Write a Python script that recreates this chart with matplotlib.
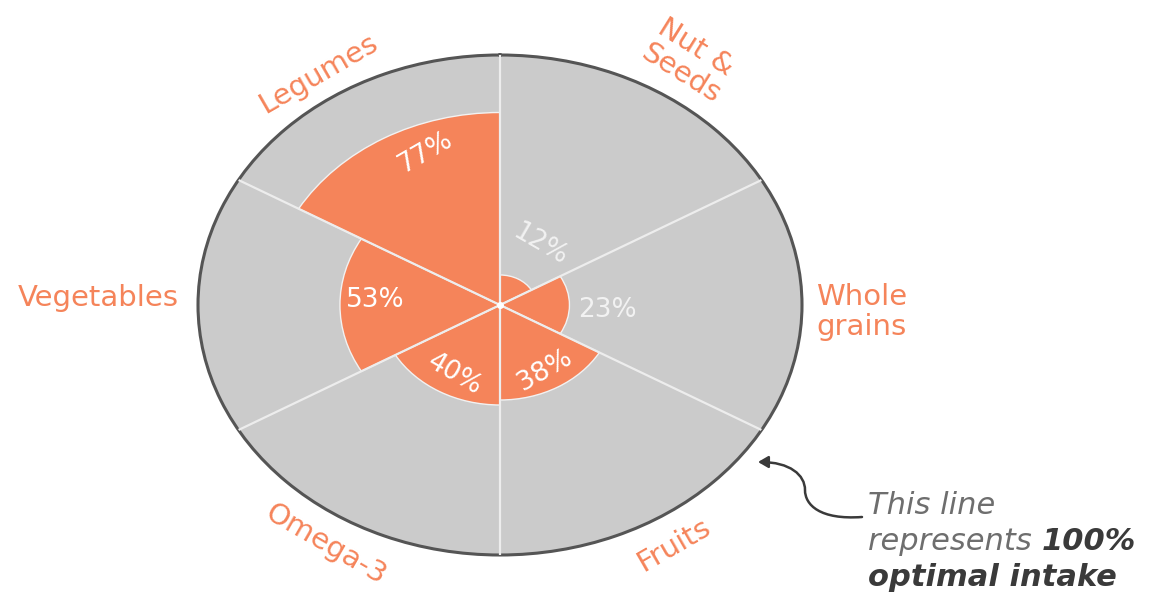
import numpy as np
import matplotlib
matplotlib.use("Agg")
import matplotlib.pyplot as plt
from matplotlib.patches import FancyArrowPatch
from matplotlib.path import Path

categories = ["Nut &\nSeeds", "Whole\ngrains", "Fruits", "Omega-3", "Vegetables", "Legumes"]
values = [12, 23, 38, 40, 53, 77]
value_labels = ["12%", "23%", "38%", "40%", "53%", "77%"]

ORANGE = "#F5845A"
GRAY = "#CBCBCB"
FONT = ["DejaVu Sans"]

W, H = 1150, 595
fig = plt.figure(figsize=(W / 100, H / 100), dpi=100)
fig.patch.set_facecolor("white")

cx, cy, rx, ry = 500, 305, 302, 250
ax = fig.add_axes([(cx - rx) / W, (H - cy - ry) / H, 2 * rx / W, 2 * ry / H], projection="polar")
ax.set_aspect("auto")
ax.set_theta_offset(np.pi / 2)
ax.set_theta_direction(-1)
ax.set_facecolor(GRAY)
ax.set_ylim(0, 100)
ax.set_xticks([])
ax.set_yticks([])
ax.grid(False)
ax.spines["polar"].set_color("#555555")
ax.spines["polar"].set_linewidth(2.2)

n = len(values)
width = 2 * np.pi / n
centers = np.arange(n) * width + width / 2
ax.bar(centers, values, width=width, bottom=0, color=ORANGE,
       edgecolor="#F2F2F2", linewidth=1.0, zorder=2)

# spokes
for b in np.arange(n) * width:
    ax.plot([b, b], [0, 100], color="#EDEDED", lw=1.6, zorder=3, solid_capstyle="butt")
ax.plot([0], [0], marker="o", ms=4, color="white", zorder=4)

# value labels: (angle deg clockwise from top, radius, rotation)
vlab_pos = [(29, 27.5, -30), (93, 35.5, 0), (150, 30, 30), (208, 31.7, -30), (273, 41.5, 0), (338, 66, 30)]
for i, (lab, (a, r, rot)) in enumerate(zip(value_labels, vlab_pos)):
    col = "white" if r < values[i] else "#F2F2F2"
    ax.text(np.deg2rad(a), r, lab, ha="center", va="center", rotation=rot,
            rotation_mode="anchor", fontsize=19, color=col, family=FONT, zorder=5)

# category labels
cat_pos = [
    (32.5, 116, -32, "center"),
    (91.5, 104.8, 0, "left"),
    (149, 112, 30, "center"),
    (211, 112, -30, "center"),
    (271.5, 106.5, 0, "right"),
    (326.9, 110.3, 30, "center"),
]
for lab, (a, r, rot, ha) in zip(categories, cat_pos):
    ax.text(np.deg2rad(a), r, lab, ha=ha, va="center", rotation=rot,
            rotation_mode="anchor", fontsize=21, color=ORANGE, family=FONT,
            linespacing=1.1, clip_on=False, multialignment=ha if ha != "center" else "center")

# annotation text
LIGHT = "#6E6E6E"
DARK = "#3A3A3A"
fs = 22
fig.text(868 / W, 1 - 514 / H, "This line", ha="left", va="baseline", fontsize=fs,
         style="italic", color=LIGHT, family=FONT)
t1 = fig.text(868 / W, 1 - 550 / H, "represents ", ha="left", va="baseline", fontsize=fs,
              style="italic", color=LIGHT, family=FONT)
fig.canvas.draw()
ext = t1.get_window_extent()
fig.text(ext.x1 / W, 1 - 550 / H, "100%", ha="left", va="baseline", fontsize=fs,
         style="italic", weight="bold", color=DARK, family=FONT)
fig.text(868 / W, 1 - 586 / H, "optimal intake", ha="left", va="baseline", fontsize=fs,
         style="italic", weight="bold", color=DARK, family=FONT)

# curved arrow (pixel coords -> figure fraction)
def P(x, y):
    return (x / W, 1 - y / H)

verts = [P(862, 517), P(820, 520), P(805, 505), P(805, 490),
         P(805, 475), P(790, 462), P(758, 462)]
codes = [Path.MOVETO, Path.CURVE4, Path.CURVE4, Path.CURVE4,
         Path.CURVE4, Path.CURVE4, Path.CURVE4]
arrow = FancyArrowPatch(path=Path(verts, codes), arrowstyle="-|>,head_length=6,head_width=3.5",
                        color="#3A3A3A", lw=1.8, transform=fig.transFigure)
fig.patches.append(arrow)

fig.savefig("out.png", dpi=100, facecolor="white")
